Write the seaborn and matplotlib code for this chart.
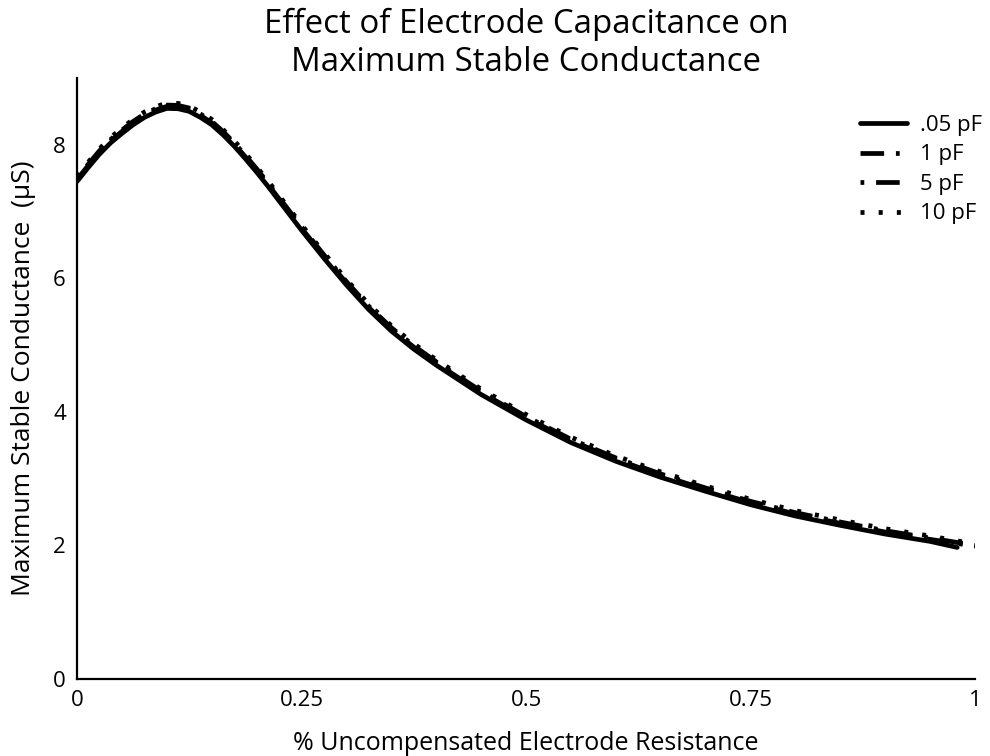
import matplotlib
matplotlib.use("Agg")
import matplotlib.pyplot as plt
import pandas as pd
import seaborn as sns

# Fraction of uncompensated electrode resistance
x_short = [0, 0.0125, 0.025, 0.0375, 0.05, 0.0625, 0.075, 0.0875, 0.1, 0.1125, 0.125,
           0.1375, 0.15, 0.1625, 0.175, 0.1875, 0.2, 0.2125, 0.225, 0.2375, 0.25, 0.2625,
           0.275, 0.2875, 0.3, 0.325, 0.35, 0.375, 0.4, 0.45, 0.5, 0.55, 0.6, 0.65, 0.7,
           0.75, 0.8, 0.85, 0.9, 0.95, 0.98]
x_full = [0, 0.0125, 0.025, 0.0375, 0.05, 0.0625, 0.075, 0.0875, 0.1, 0.1125, 0.125,
          0.1375, 0.15, 0.1625, 0.175, 0.1875, 0.2, 0.2125, 0.225, 0.2375, 0.25, 0.2625,
          0.275, 0.2875, 0.3, 0.325, 0.35, 0.375, 0.4, 0.45, 0.5, 0.55, 0.6, 0.65, 0.7,
          0.75, 0.8, 0.85, 0.9, 0.95, 1.0]

# Maximum stable conductance (uS) for each electrode capacitance
g_005pF = [7.45, 7.66, 7.86, 8.03, 8.17, 8.30, 8.41, 8.49, 8.545, 8.54, 8.50, 8.41, 8.30,
           8.15, 7.98, 7.79, 7.59, 7.38, 7.16, 6.94, 6.72, 6.51, 6.30, 6.10, 5.90, 5.53,
           5.21, 4.94, 4.70, 4.26, 3.88, 3.54, 3.26, 3.02, 2.81, 2.61, 2.44, 2.30, 2.17,
           2.06, 1.97]
g_1pF = [7.48, 7.69, 7.89, 8.06, 8.20, 8.33, 8.44, 8.52, 8.575, 8.57, 8.53, 8.44, 8.33,
         8.18, 8.01, 7.82, 7.62, 7.41, 7.19, 6.97, 6.75, 6.54, 6.33, 6.13, 5.93, 5.56,
         5.24, 4.97, 4.73, 4.29, 3.91, 3.57, 3.29, 3.05, 2.84, 2.64, 2.47, 2.33, 2.20,
         2.09, 1.99]
g_5pF = [7.50, 7.71, 7.91, 8.08, 8.22, 8.35, 8.46, 8.54, 8.595, 8.59, 8.55, 8.46, 8.35,
         8.20, 8.03, 7.84, 7.64, 7.43, 7.21, 6.99, 6.77, 6.56, 6.35, 6.15, 5.95, 5.58,
         5.26, 4.99, 4.75, 4.31, 3.93, 3.59, 3.31, 3.07, 2.86, 2.66, 2.49, 2.35, 2.22,
         2.11, 2.00]
g_10pF = [7.53, 7.74, 7.94, 8.11, 8.25, 8.38, 8.49, 8.57, 8.625, 8.62, 8.58, 8.49, 8.38,
          8.23, 8.06, 7.87, 7.67, 7.46, 7.24, 7.02, 6.80, 6.59, 6.38, 6.18, 5.98, 5.61,
          5.29, 5.02, 4.78, 4.34, 3.96, 3.62, 3.34, 3.10, 2.89, 2.69, 2.52, 2.38, 2.25,
          2.14, 2.02]

labels = [".05 pF", "1 pF", "5 pF", "10 pF"]
x_ticks = [0, 0.25, 0.5, 0.75, 1]
x_tick_labels = ["0", "0.25", "0.5", "0.75", "1"]
y_ticks = [0, 2, 4, 6, 8]

series = [
    (labels[0], x_short, g_005pF, "-"),
    (labels[1], x_full, g_1pF, (0, (5, 2.5, 0.8, 2.5))),
    (labels[2], x_full, g_5pF, (0, (0.8, 2.5, 5, 2.5))),
    (labels[3], x_full, g_10pF, (0, (0.85, 3.0))),
]

sns.set_theme(style="white")
plt.rcParams["font.family"] = ["Open Sans", "DejaVu Sans"]
plt.rcParams["text.color"] = "black"
plt.rcParams["axes.labelcolor"] = "black"

fig = plt.figure(figsize=(9.9, 7.56), dpi=100)
ax = fig.add_axes([0.0778, 0.1019, 0.9072, 0.7949])

for label, xs, ys, ls in series:
    df = pd.DataFrame({"x": xs, "y": ys})
    sns.lineplot(data=df, x="x", y="y", ax=ax, color="black", linewidth=3.4,
                 linestyle=ls, label=label, sort=False, estimator=None)

ax.set_xlim(0, 1)
ax.set_ylim(0, 9)
ax.set_xticks(x_ticks)
ax.set_xticklabels(x_tick_labels)
ax.set_yticks(y_ticks)
ax.tick_params(axis="both", direction="in", length=11.5, width=1.3,
               labelsize=16, pad=8, colors="black")
for side in ("top", "right"):
    ax.spines[side].set_visible(False)
for side in ("left", "bottom"):
    ax.spines[side].set_color("black")
    ax.spines[side].set_linewidth(1.6)

ax.set_xlabel("% Uncompensated Electrode Resistance", fontsize=18, labelpad=14)
ax.set_ylabel("Maximum Stable Conductance  (\u00b5S)", fontsize=19, labelpad=12)
ax.set_title("Effect of Electrode Capacitance on\nMaximum Stable Conductance",
             fontsize=23.8, pad=5, linespacing=1.22, color="black")

ax.legend(loc="upper left", bbox_to_anchor=(860 / 990, 1 - 115 / 756),
          bbox_transform=fig.transFigure, frameon=False, fontsize=16,
          handlelength=2.1, handletextpad=0.6, labelspacing=0.38,
          borderpad=0, borderaxespad=0)

fig.savefig("out.png", dpi=100)
